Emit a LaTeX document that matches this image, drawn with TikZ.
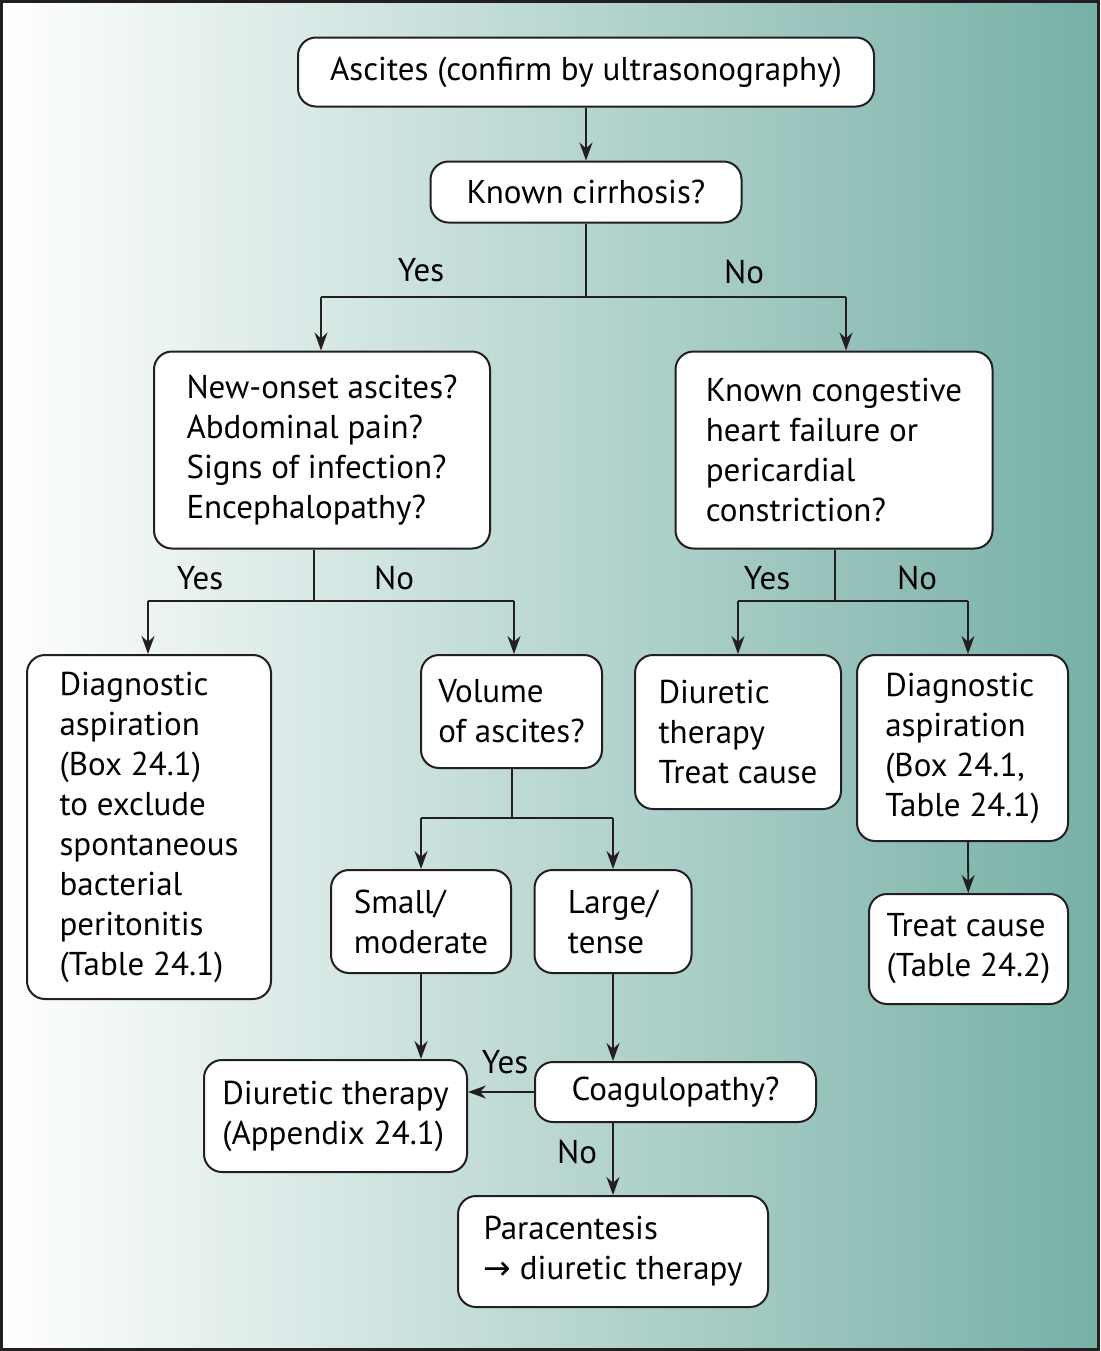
\documentclass[tikz,border=0pt]{standalone}
\usepackage{fontspec}
\setmainfont{PT Sans}
\newfontfamily\arrowfont{DejaVu Sans}
\usepackage{tikz}
\usepackage{xcolor}
\usetikzlibrary{arrows.meta,positioning,calc}
\definecolor{ink}{HTML}{231F20}
\definecolor{tealend}{HTML}{76B0A6}
\tikzset{
  flowbox/.style={draw=ink,fill=white,line width=1pt,rounded corners=9pt,
                  align=left,inner sep=0pt,
                  font=\fontsize{16.5}{20}\selectfont},
  flowarr/.style={-{Stealth[length=9pt,width=6.5pt]},line width=0.9pt,color=ink},
  flowline/.style={line width=0.9pt,color=ink},
  answer/.style={font=\fontsize{16.5}{20}\selectfont,inner sep=0pt}
}

\begin{document}
\begin{tikzpicture}[x=0.5pt,y=-0.5pt]
      % background and frame
      \useasboundingbox (0,0) rectangle (1100,1351);
      \shade[left color=white,right color=tealend] (0,0) rectangle (1100,1351);
      \draw[ink,line width=1.5pt] (1.5,1.5) rectangle (1098.5,1349.5);

      % top of the chart
      \node[flowbox,minimum width=288pt,minimum height=34.5pt] (ascites) at (586,72)
        {Ascites (confirm by ultrasonography)};
      \node[flowbox,minimum width=155.5pt,minimum height=30.5pt] (cirrh) at (586,192)
        {Known cirrhosis?};
      \draw[flowarr] (ascites) -- (cirrh);

      % first split
      \node[flowbox,minimum width=168pt,minimum height=98.5pt] (newonset) at (322,450)
        {New-onset ascites?\\Abdominal pain?\\Signs of infection?\\Encephalopathy?};
      \node[flowbox,minimum width=158.5pt,minimum height=98.5pt] (heart) at (834,450)
        {Known congestive\\heart failure or\\pericardial\\constriction?};
      \coordinate (j1) at (586,297);
      \coordinate (j1l) at (321,297);
      \coordinate (j1r) at (846,297);
      \draw[flowline] (cirrh) -- (j1);
      \draw[flowline] (j1l) -- (j1r);
      \draw[flowarr] (j1l) -- (j1l |- newonset.north);
      \draw[flowarr] (j1r) -- (j1r |- heart.north);
      \node[answer] (yes1) at (421,270) {Yes};
      \node[answer] (no1) at (744,272) {No};

      % left branch
      \node[flowbox,minimum width=122pt,minimum height=172pt] (asp1) at (149,827)
        {Diagnostic\\aspiration\\(Box 24.1)\\to exclude\\spontaneous\\bacterial\\peritonitis\\(Table 24.1)};
      \node[flowbox,minimum width=90.5pt,minimum height=56.5pt] (volume) at (511.5,711.5)
        {Volume\\of ascites?};
      \coordinate (j2) at (314,601);
      \coordinate (j2l) at (148,601);
      \coordinate (j2r) at (514,601);
      \draw[flowline] (j2 |- newonset.south) -- (j2);
      \draw[flowline] (j2l) -- (j2r);
      \draw[flowarr] (j2l) -- (j2l |- asp1.north);
      \draw[flowarr] (j2r) -- (j2r |- volume.north);
      \node[answer] (yes2) at (200,578) {Yes};
      \node[answer] (no2) at (394,578) {No};

      % volume of ascites
      \node[flowbox,minimum width=90pt,minimum height=51.5pt] (small) at (421,921.5)
        {Small/\\moderate};
      \node[flowbox,minimum width=78.5pt,minimum height=51.5pt] (large) at (613,921.5)
        {Large/\\tense};
      \coordinate (j3) at (512,818);
      \coordinate (j3l) at (421,818);
      \coordinate (j3r) at (613,818);
      \draw[flowline] (j3 |- volume.south) -- (j3);
      \draw[flowline] (j3l) -- (j3r);
      \draw[flowarr] (j3l) -- (j3l |- small.north);
      \draw[flowarr] (j3r) -- (j3r |- large.north);

      % bottom of the chart
      \node[flowbox,minimum width=131.5pt,minimum height=56pt] (diuretic) at (335.5,1116)
        {Diuretic therapy\\(Appendix 24.1)};
      \node[flowbox,minimum width=140.5pt,minimum height=30pt] (coag) at (675.5,1092)
        {Coagulopathy?};
      \node[flowbox,minimum width=155pt,minimum height=55.5pt] (para) at (613,1251.5)
        {Paracentesis\\{\arrowfont →} diuretic therapy};
      \draw[flowarr] (small) -- (small |- diuretic.north);
      \draw[flowarr] (large) -- (large |- coag.north);
      \draw[flowarr] (coag.west) -- (coag.west -| diuretic.east);
      \draw[flowarr] (coag.south -| para) -- (para);
      \node[answer] (yes3) at (505,1062) {Yes};
      \node[answer] (no3) at (577,1152) {No};

      % right branch
      \node[flowbox,minimum width=103pt,minimum height=77pt] (treat1) at (738,732)
        {Diuretic\\therapy\\Treat cause};
      \node[flowbox,minimum width=105.5pt,minimum height=93pt] (asp2) at (962.5,748)
        {Diagnostic\\aspiration\\(Box 24.1,\\Table 24.1)};
      \node[flowbox,minimum width=99.5pt,minimum height=55pt] (treat2) at (968.5,949)
        {Treat cause\\(Table 24.2)};
      \coordinate (j4) at (835,601);
      \coordinate (j4l) at (738,601);
      \coordinate (j4r) at (968,601);
      \draw[flowline] (j4 |- heart.south) -- (j4);
      \draw[flowline] (j4l) -- (j4r);
      \draw[flowarr] (j4l) -- (j4l |- treat1.north);
      \draw[flowarr] (j4r) -- (j4r |- asp2.north);
      \draw[flowarr] (asp2.south -| j4r) -- (treat2);
      \node[answer] (yes4) at (767,578) {Yes};
      \node[answer] (no4) at (917,578) {No};
\end{tikzpicture}
\end{document}
